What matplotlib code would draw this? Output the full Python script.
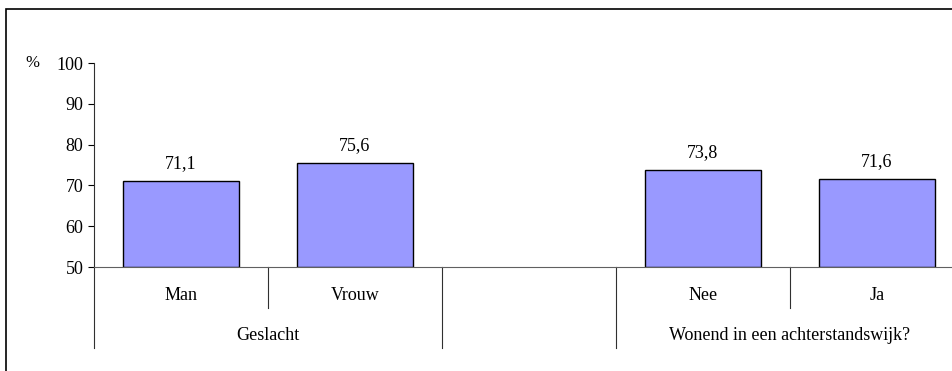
import matplotlib
matplotlib.use("Agg")
from matplotlib import pyplot as plt
from matplotlib import transforms
from matplotlib.patches import Rectangle

plt.rcParams['font.family'] = ['Liberation Serif', 'DejaVu Serif']
plt.rcParams['font.size'] = 13

categories = ["Man", "Vrouw", "", "Nee", "Ja"]
values = [71.1, 75.6, None, 73.8, 71.6]
groups = ["Geslacht", "", "Wonend in een achterstandswijk?"]
group_spans = [(0, 1), (2, 2), (3, 4)]
yticks = [50, 60, 70, 80, 90, 100]

W, H = 952, 371
fig = plt.figure(figsize=(W / 100, H / 100), dpi=100)

# frame around the chart area (runs off the right and bottom edge)
fig.patches.append(Rectangle((6 / W, -0.1), 1.2, 1 - 9.5 / H + 0.1,
                             transform=fig.transFigure, fill=False,
                             edgecolor="black", linewidth=1.2))

ax = fig.add_axes([94 / W, (H - 267) / H, (964 - 94) / W, (267 - 63) / H])
ax.set_xlim(-0.5, len(categories) - 0.5)
ax.set_ylim(50, 100)
ax.set_yticks(yticks)
ax.set_yticklabels([str(t) for t in yticks])
ax.tick_params(axis="y", direction="out", length=4.5, width=0.8, pad=3)
ax.set_xticks([])
for s in ["top", "right"]:
    ax.spines[s].set_visible(False)
ax.spines["left"].set_color("#303030")
ax.spines["bottom"].set_color("#606060")
ax.spines["left"].set_linewidth(0.8)
ax.spines["bottom"].set_linewidth(0.8)

for i, v in enumerate(values):
    if v is None:
        continue
    ax.bar(i, v - 50, bottom=50, width=0.67, color="#9999ff",
           edgecolor="black", linewidth=1.0)
    ax.annotate(f"{v:.1f}".replace(".", ","), (i, v), xytext=(0, 6),
                textcoords="offset points", ha="center", va="bottom")

ax.text((32 - 94) / 870, 1.0, "%", transform=ax.transAxes, ha="center",
        va="center", fontsize=12)

trans = transforms.blended_transform_factory(ax.transData, ax.transAxes)
short_y = -(308 - 267) / 204
long_y = -(348 - 267) / 204

# category labels and dividers
for i, c in enumerate(categories):
    if c:
        ax.text(i, -(295 - 267) / 204, c, transform=trans, ha="center",
                va="center")
group_edges = set()
for a, b in group_spans:
    group_edges.add(a - 0.5)
    group_edges.add(b + 0.5)
for i in range(len(categories) + 1):
    x = i - 0.5
    y0 = long_y if x in group_edges else short_y
    ax.plot([x, x], [0, y0], transform=trans, color="#303030",
            linewidth=0.8, clip_on=False)

for name, (a, b) in zip(groups, group_spans):
    if name:
        ax.text((a + b) / 2, -(336 - 267) / 204, name, transform=trans,
                ha="center", va="center")

fig.savefig("out.png", dpi=100)
